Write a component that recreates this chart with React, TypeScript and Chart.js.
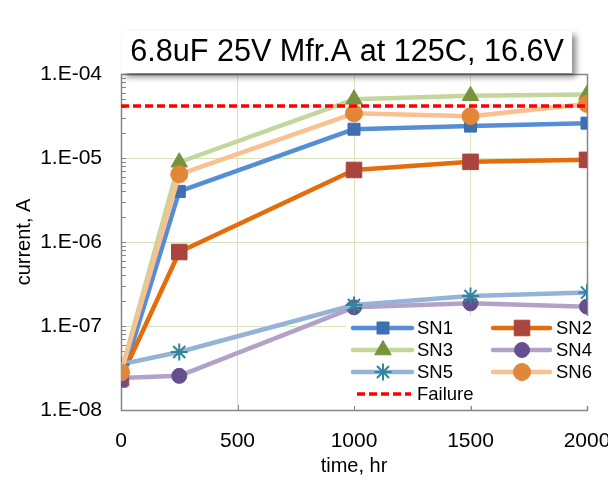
import React, { useEffect, useRef } from "react";
import { Chart, registerables } from "chart.js";

Chart.register(...registerables);

const TITLE = "6.8uF 25V Mfr.A at 125C, 16.6V";
const X_TITLE = "time, hr";
const Y_TITLE = "current, A";

const times = [0, 250, 1000, 1500, 2000];
const sn1 = [2.2e-8, 4.0e-6, 2.2e-5, 2.4e-5, 2.6e-5];
const sn2 = [2.4e-8, 7.6e-7, 7.2e-6, 9.0e-6, 9.5e-6];
const sn3 = [2.8e-8, 8.9e-6, 5.0e-5, 5.5e-5, 5.7e-5];
const sn4 = [2.4e-8, 2.55e-8, 1.67e-7, 1.86e-7, 1.7e-7];
const sn5 = [3.5e-8, 4.9e-8, 1.78e-7, 2.28e-7, 2.5e-7];
const sn6 = [2.8e-8, 6.4e-6, 3.4e-5, 3.15e-5, 4.4e-5];
const failureTimes = [0, 2000];
const failureLevel = [4.15e-5, 4.15e-5];

const decadeValues = [1e-8, 1e-7, 1e-6, 1e-5, 1e-4];
const decadeLabels = ["1.E-08", "1.E-07", "1.E-06", "1.E-05", "1.E-04"];
const minorMultipliers = [2, 3, 4, 5, 6, 7, 8, 9];
const xTickValues = [0, 500, 1000, 1500, 2000];
const xTickLabels = ["0", "500", "1000", "1500", "2000"];

const FONT = "'Liberation Sans', Arial, Helvetica, sans-serif";
const GRID = "#d7e4bd";
const FRAME = "#868686";

const isDecade = (v: number) => {
  const l = Math.log10(v);
  return Math.abs(l - Math.round(l)) < 1e-6;
};
const decadeLabel = (v: number) => {
  for (let i = 0; i < decadeValues.length; i++) {
    if (Math.abs(Math.log10(v) - Math.log10(decadeValues[i])) < 1e-6) return decadeLabels[i];
  }
  return "";
};
const xLabel = (v: number) => {
  const i = xTickValues.indexOf(v);
  return i >= 0 ? xTickLabels[i] : "";
};

const toPts = (xs: number[], ys: number[]) => xs.map((x, i) => ({ x, y: ys[i] }));

function drawMarker(ctx: CanvasRenderingContext2D, style: string, x: number, y: number, r: number, fill: string, stroke: string, bw: number) {
  ctx.save();
  ctx.fillStyle = fill;
  ctx.strokeStyle = stroke;
  ctx.lineWidth = bw;
  ctx.beginPath();
  if (style === "rect") {
    const s = Math.SQRT1_2 * r;
    ctx.rect(x - s, y - s, 2 * s, 2 * s);
    ctx.fill();
    ctx.stroke();
  } else if (style === "circle") {
    ctx.arc(x, y, r, 0, Math.PI * 2);
    ctx.fill();
    ctx.stroke();
  } else if (style === "triangle") {
    for (let k = 0; k < 3; k++) {
      const a = (k * 2 * Math.PI) / 3;
      const px = x + Math.sin(a) * r;
      const py = y - Math.cos(a) * r;
      if (k === 0) ctx.moveTo(px, py);
      else ctx.lineTo(px, py);
    }
    ctx.closePath();
    ctx.fill();
    ctx.stroke();
  } else if (style === "star") {
    ctx.moveTo(x, y - r);
    ctx.lineTo(x, y + r);
    ctx.moveTo(x - r, y);
    ctx.lineTo(x + r, y);
    const d = r * Math.SQRT1_2;
    ctx.moveTo(x - d, y - d);
    ctx.lineTo(x + d, y + d);
    ctx.moveTo(x - d, y + d);
    ctx.lineTo(x + d, y - d);
    ctx.stroke();
  }
  ctx.restore();
}

const framePlugin = {
  id: "frameTicks",
  beforeDatasetsDraw(chart: any) {
    const { ctx, chartArea: ca, scales } = chart;
    ctx.save();
    ctx.strokeStyle = FRAME;
    ctx.lineWidth = 1;
    for (const t of scales.y.ticks) {
      const py = Math.round(scales.y.getPixelForValue(t.value)) + 0.5;
      ctx.beginPath();
      ctx.moveTo(ca.left, py);
      ctx.lineTo(ca.left + 5, py);
      ctx.stroke();
    }
    for (const t of scales.x.ticks) {
      const px = Math.round(scales.x.getPixelForValue(t.value)) + 0.5;
      ctx.beginPath();
      ctx.moveTo(px, ca.bottom);
      ctx.lineTo(px, ca.bottom - 5);
      ctx.stroke();
    }
    ctx.lineWidth = 1.5;
    ctx.strokeRect(Math.round(ca.left) + 0.5, Math.round(ca.top) + 0.5, Math.round(ca.right - ca.left), Math.round(ca.bottom - ca.top));
    ctx.restore();
  },
};

const legendPlugin = {
  id: "customLegend",
  afterDraw(chart: any) {
    const { ctx } = chart;
    const ds = chart.data.datasets;
    const boxX = 338, boxY = 308, boxW = 256, boxH = 90;
    ctx.save();
    ctx.fillStyle = "#ffffff";
    ctx.fillRect(boxX, boxY, boxW, boxH);
    const rows = [320, 342, 364, 386];
    const cols = [
      { l0: 345, l1: 404, m: 375, t: 409 },
      { l0: 485, l1: 542, m: 514, t: 548 },
    ];
    ctx.font = `18.5px ${FONT}`;
    ctx.textBaseline = "middle";
    ctx.textAlign = "left";
    ds.forEach((d: any, i: number) => {
      let row: number, col: any;
      if (i < 6) {
        row = rows[Math.floor(i / 2)];
        col = cols[i % 2];
      } else {
        row = rows[3];
        col = { l0: 349, l1: 403, m: 0, t: 409 };
      }
      ctx.save();
      ctx.strokeStyle = d.borderColor;
      ctx.lineWidth = d.borderWidth;
      ctx.lineCap = d.borderDash ? "butt" : "round";
      if (d.borderDash) ctx.setLineDash(d.borderDash);
      ctx.beginPath();
      ctx.moveTo(col.l0, row);
      ctx.lineTo(col.l1, row);
      ctx.stroke();
      ctx.restore();
      if (d.pointRadius > 0) {
        drawMarker(ctx, d.pointStyle, col.m, row, d.pointRadius, d.pointBackgroundColor, d.pointBorderColor, d.pointBorderWidth);
      }
      ctx.fillStyle = "#000";
      ctx.fillText(d.label, col.t, row + 1);
    });
    ctx.restore();
  },
};

const titlePlugin = {
  id: "titleBox",
  afterDraw(chart: any) {
    const { ctx, chartArea: ca } = chart;
    const bx = ca.left + 1, by = 23, bw = 450, bh = 42;
    ctx.save();
    ctx.shadowColor = "rgba(0,0,0,0.45)";
    ctx.shadowBlur = 6;
    ctx.shadowOffsetX = 4;
    ctx.shadowOffsetY = 4;
    ctx.fillStyle = "#ffffff";
    ctx.fillRect(bx, by, bw, bh);
    ctx.restore();
    ctx.save();
    ctx.font = `30.6px ${FONT}`;
    ctx.fillStyle = "#000";
    ctx.textAlign = "center";
    ctx.textBaseline = "middle";
    ctx.fillText(TITLE, bx + bw / 2, by + bh / 2 + 1);
    ctx.restore();
  },
};

const seriesStyle = (
  label: string,
  data: number[],
  line: string,
  style: string,
  radius: number,
  fill: string,
  stroke: string,
  bw: number,
  order: number
) => ({
  label,
  data: toPts(times, data),
  borderColor: line,
  backgroundColor: line,
  borderWidth: 4.5,
  borderJoinStyle: "round",
  borderCapStyle: "round",
  pointStyle: style,
  pointRadius: radius,
  pointBackgroundColor: fill,
  pointBorderColor: stroke,
  pointBorderWidth: bw,
  tension: 0,
  order,
});

export default function App() {
  const ref = useRef<HTMLCanvasElement | null>(null);
  useEffect(() => {
    if (!ref.current) return;
    const datasets: any[] = [
      seriesStyle("SN1", sn1, "#558ed5", "rect", 8.5, "#3d6fb2", "#3d6fb2", 1, 6),
      seriesStyle("SN2", sn2, "#e46c0a", "rect", 11, "#a9443f", "#a9443f", 1, 5),
      seriesStyle("SN3", sn3, "#c3d69b", "triangle", 9.5, "#77933c", "#77933c", 1, 4),
      seriesStyle("SN4", sn4, "#b3a2c7", "circle", 7.5, "#664f8c", "#664f8c", 1, 3),
      seriesStyle("SN5", sn5, "#95b3d7", "star", 8.5, "#31859c", "#31859c", 2, 2),
      seriesStyle("SN6", sn6, "#fac090", "circle", 8.5, "#e0873a", "#e0873a", 1, 1),
      {
        label: "Failure",
        data: toPts(failureTimes, failureLevel),
        borderColor: "#ff0000",
        backgroundColor: "#ff0000",
        borderWidth: 3.5,
        borderDash: [8, 4],
        borderCapStyle: "butt",
        pointRadius: 0,
        pointStyle: "line",
        order: 0,
      },
    ];
    const chart = new Chart(ref.current, {
      type: "line",
      data: { datasets },
      plugins: [framePlugin, legendPlugin, titlePlugin],
      options: {
        animation: false,
        responsive: false,
        layout: { padding: { top: 66, right: 21, left: 0, bottom: 0 } },
        plugins: {
          legend: { display: false },
          title: { display: false },
          tooltip: { enabled: false },
        },
        scales: {
          x: {
            type: "linear",
            min: 0,
            max: 2000,
            afterBuildTicks: (s: any) => {
              s.ticks = xTickValues.map((v) => ({ value: v }));
            },
            afterFit: (s: any) => {
              s.height = 66;
              s.paddingLeft = 0;
              s.paddingRight = 0;
            },
            grid: { color: GRID, lineWidth: 1, drawTicks: false },
            border: { display: false },
            ticks: {
              font: { family: FONT, size: 21 },
              color: "#000",
              padding: 19,
              autoSkip: false,
              maxRotation: 0,
              callback: (v: any) => xLabel(Number(v)),
            },
            title: {
              display: true,
              text: X_TITLE,
              color: "#000",
              font: { family: FONT, size: 20, lineHeight: 1.0 },
              padding: { top: 0, bottom: 0 },
            },
          },
          y: {
            type: "logarithmic",
            min: 1e-8,
            max: 1e-4,
            afterBuildTicks: (s: any) => {
              const ticks: any[] = [];
              decadeValues.forEach((d, i) => {
                ticks.push({ value: d, major: true });
                if (i < decadeValues.length - 1) {
                  minorMultipliers.forEach((m) => ticks.push({ value: d * m }));
                }
              });
              s.ticks = ticks;
            },
            afterFit: (s: any) => {
              s.width = 113;
              s.paddingTop = 0;
              s.paddingBottom = 0;
            },
            grid: {
              color: (c: any) => (c.tick && isDecade(c.tick.value) ? GRID : "rgba(0,0,0,0)"),
              lineWidth: 1,
              drawTicks: false,
            },
            border: { display: false },
            ticks: {
              font: { family: FONT, size: 21 },
              color: "#000",
              padding: 19,
              autoSkip: false,
              callback: (v: any) => (isDecade(Number(v)) ? decadeLabel(Number(v)) : ""),
            },
            title: {
              display: true,
              text: Y_TITLE,
              color: "#000",
              font: { family: FONT, size: 20, lineHeight: 1.0 },
              padding: { top: 6, bottom: 0 },
            },
          },
        },
      } as any,
    });
    return () => chart.destroy();
  }, []);
  return <canvas ref={ref} width={600} height={468} style={{ display: "block" }} />;
}
